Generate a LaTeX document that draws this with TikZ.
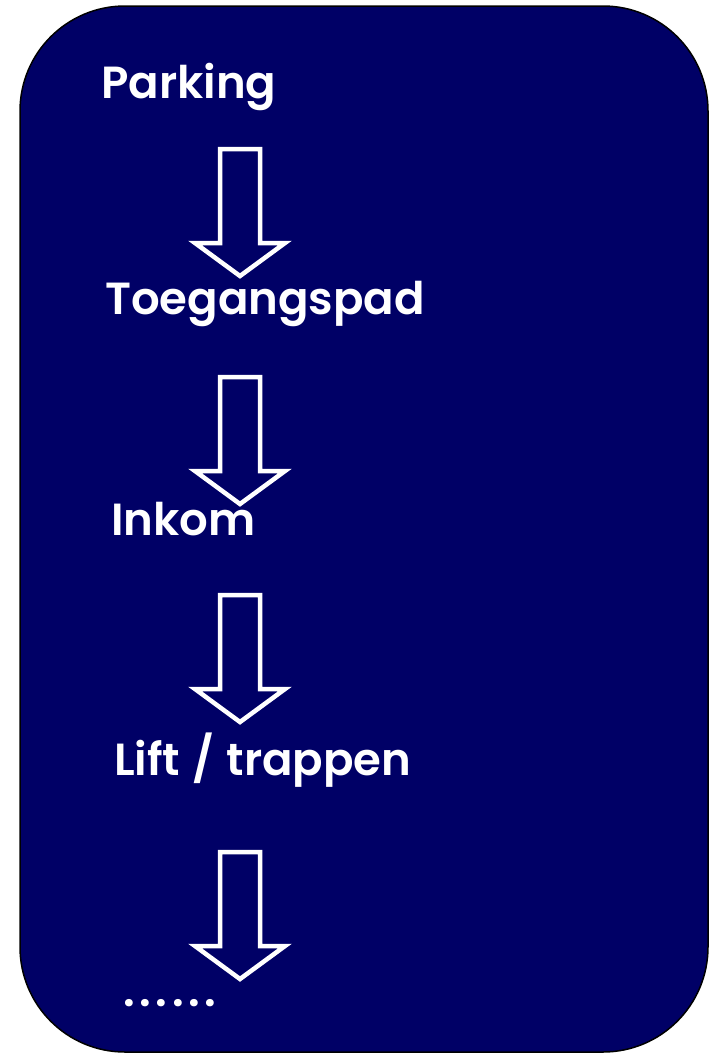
\documentclass[tikz,border=0pt]{standalone}
\usepackage{fontspec}
\setmainfont{Poppins}[BoldFont={Poppins SemiBold}]
\definecolor{navyfill}{RGB}{0,0,102}
\tikzset{
  panel/.style={draw=black, line width=1.5pt, fill=navyfill, rounded corners=105pt},
  arrowline/.style={draw=white, line width=4.5pt, line join=miter},
  lbl/.style={text=white, font=\fontsize{45}{50}\selectfont\bfseries, anchor=base west, inner sep=0pt},
  downblock/.pic={\draw[arrowline] (-20,0) -- (20,0) -- (20,94) -- (45,94) -- (0,127) -- (-45,94) -- (-20,94) -- cycle;}
}
\begin{document}
\begin{tikzpicture}[x=1pt,y=-1pt]
\useasboundingbox (0,0) rectangle (714,1055);
\path[panel] (20,6) rectangle (708,1052);
\node[lbl] (parking) at (101,98) {Parking};
\node[lbl] (toegang) at (105,314) {Toegangspad};
\node[lbl] (inkom) at (111,535) {Inkom};
\node[lbl] (lift) at (114,775) {Lift\hspace{1.5pt} /\hspace{1.5pt} trappen};
\node[lbl] (dots) at (123,1006) {.\kern4.6pt.\kern4.6pt.\kern4.6pt.\kern4.6pt.\kern4.6pt.};
\pic (a1) at (240,149) {downblock};
\pic (a2) at (240,377) {downblock};
\pic (a3) at (240,595) {downblock};
\pic (a4) at (240,852) {downblock};
\end{tikzpicture}
\end{document}
